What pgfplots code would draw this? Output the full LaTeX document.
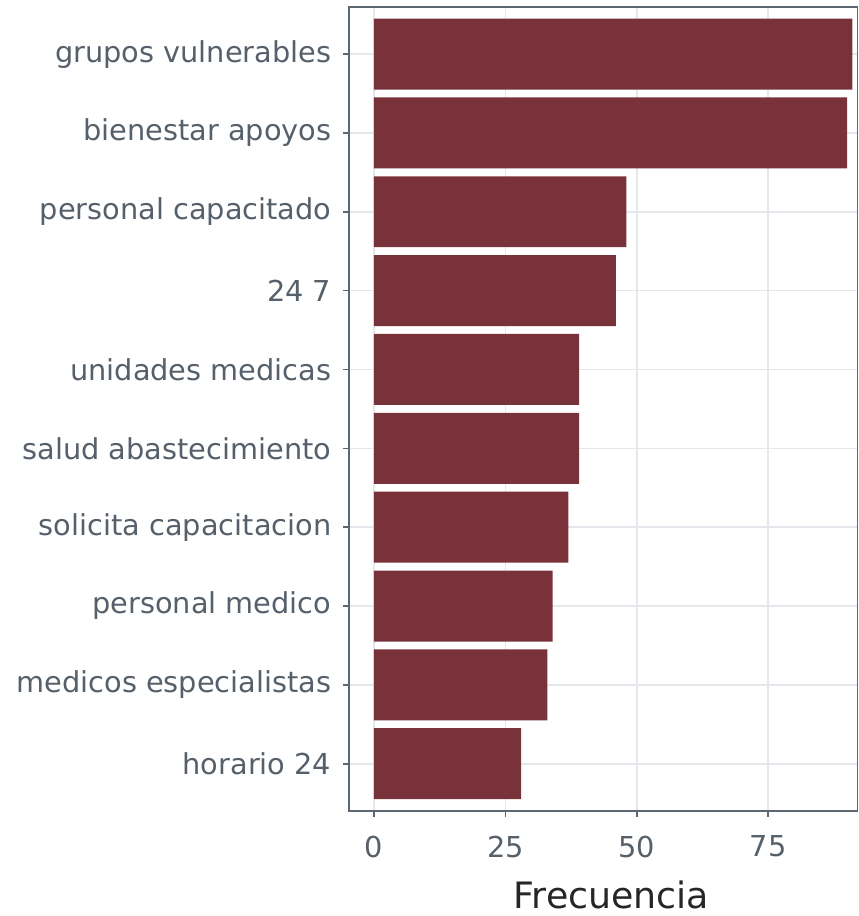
\documentclass[border=0pt]{standalone}
\usepackage{pgfplots}
\pgfplotsset{compat=1.18}
\usepackage{fontspec}
\setmainfont{DejaVu Sans}
\definecolor{barred}{HTML}{7A323A}
\definecolor{axgray}{HTML}{5C6873}
\definecolor{txtgray}{HTML}{56606B}
\definecolor{gridgray}{HTML}{E4E7EB}

\begin{document}
\begin{tikzpicture}
\begin{axis}[
    xbar,
    scale only axis,
    width=256pt,
    height=405pt,
    xmin=-4.7, xmax=92,
    ymin=-0.6, ymax=9.6,
    y dir=reverse,
    bar width=0.9,
    ytick={0,...,9},
    yticklabels={grupos vulnerables, bienestar apoyos, personal capacitado, 24 7,
      unidades medicas, salud abastecimiento, solicita capacitacion,
      personal medico, medicos especialistas, horario 24},
    xtick={0,25,50,75},
    xtick pos=bottom,
    ytick pos=left,
    tick align=outside,
    major tick length=3pt,
    tick style={axgray, line width=0.8pt},
    axis line style={axgray, line width=0.8pt},
    grid=major,
    grid style={gridgray, line width=0.8pt},
    ticklabel style={font=\fontsize{14.5}{16}\selectfont, text=txtgray},
    yticklabel style={xshift=-2.5pt},
    xticklabel style={yshift=-6pt},
    /pgf/number format/assume math mode=true,
    xlabel={Frecuencia},
    xlabel style={font=\fontsize{18.3}{20}\selectfont, text=black!85, yshift=-5pt, xshift=4pt},
]
\addplot[fill=barred, draw=none] coordinates {
    (91,0) (90,1) (48,2) (46,3) (39,4) (39,5) (37,6) (34,7) (33,8) (28,9)
};
\end{axis}
% a little white margin above and to the left, as in the original
\path ([xshift=-5pt,yshift=3pt]current bounding box.north west);
\end{tikzpicture}
\end{document}
